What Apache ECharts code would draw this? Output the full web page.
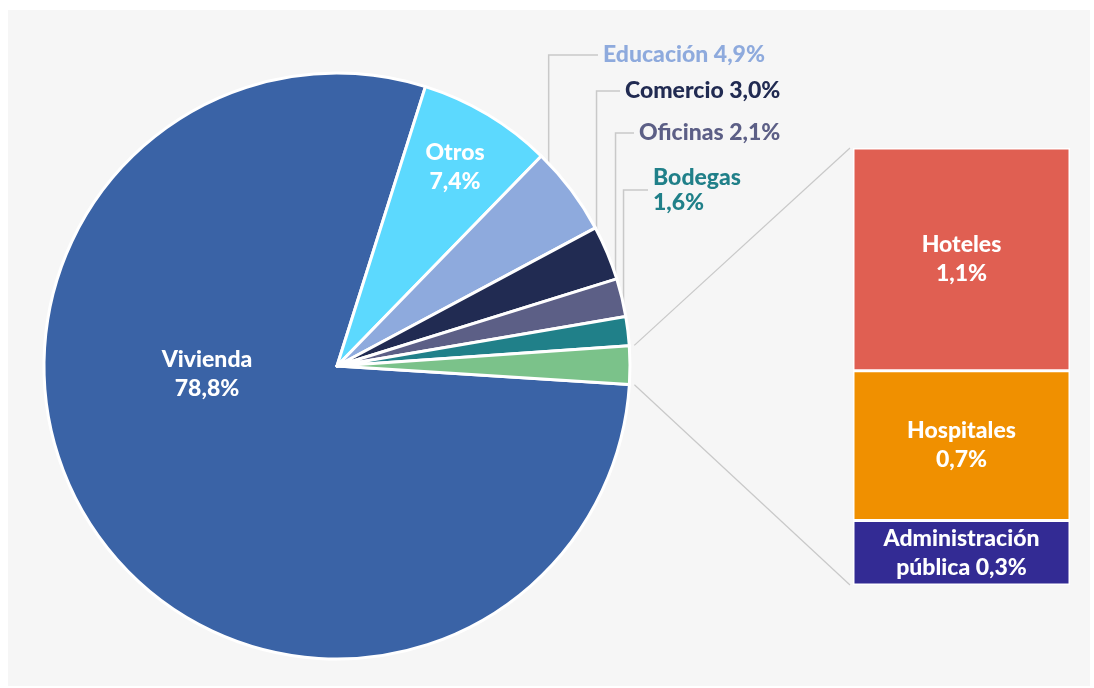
<!DOCTYPE html>
<html>
<head>
<meta charset="utf-8">
<title>Distribución por destino</title>
<script src="https://cdn.jsdelivr.net/npm/echarts@6/dist/echarts.min.js"></script>
<style>
	html, body { margin: 0; padding: 0; background: #ffffff; }
	#mainChart { width: 1094px; height: 688px; }
</style>
</head>
<body>
<div id="mainChart"></div>
<script>
// datos del gráfico
var pieNames = ['Vivienda', 'Otros', 'Educación', 'Comercio', 'Oficinas', 'Bodegas', 'Otros usos'];
var pieValues = [78.8, 7.4, 4.9, 3.0, 2.1, 1.6, 2.1];
var pieColors = ['#3a63a6', '#5cd9fe', '#8eaadd', '#212b52', '#5c5f86', '#208089', '#7bc28a'];

var barNames = ['Hoteles', 'Hospitales', 'Administración pública'];
var barValues = [1.07, 0.72, 0.31];
var barColors = ['#e05f52', '#f09000', '#332b94'];

// geometría
var cx = 337, cy = 366, R = 293;
var startAngle = -3.6;
var gridBox = { left: 853, top: 148, width: 217, height: 437 };
var fontName = 'Lato';

// posición de las etiquetas (x, y del texto)
var labelPos = {
	'Vivienda': [207, 374],
	'Otros': [455, 167],
	'Educación': [603, 55],
	'Comercio': [625, 91],
	'Oficinas': [639, 133],
	'Bodegas': [653, 190]
};

function fmt(v) {
	return v.toFixed(1).replace('.', ',') + '%';
}

// ángulos de cada sector (sentido horario desde startAngle)
var total = 0;
for (var i = 0; i < pieValues.length; i++) total += pieValues[i];
var sliceStart = [], sliceEnd = [];
var acc = startAngle;
for (var i = 0; i < pieValues.length; i++) {
	sliceStart.push(acc);
	acc -= pieValues[i] / total * 360;
	sliceEnd.push(acc);
}

function polar(angleDeg, r) {
	var a = angleDeg * Math.PI / 180;
	return [cx + r * Math.cos(a), cy - r * Math.sin(a)];
}

var pieData = [];
for (var i = 0; i < pieNames.length; i++) {
	var item = {
		name: pieNames[i],
		value: pieValues[i],
		itemStyle: { color: pieColors[i] }
	};
	if (i < 2) {
		item.label = { position: 'inside', color: '#ffffff', lineHeight: 29, formatter: '{b}\n' + fmt(pieValues[i]) };
		item.labelLine = { show: false };
	} else if (i == pieNames.length - 1) {
		item.label = { show: false };
		item.labelLine = { show: false };
	} else {
		var txt = pieNames[i] == 'Bodegas' ? '{b}\n' + fmt(pieValues[i]) : '{b} ' + fmt(pieValues[i]);
		item.label = { color: pieColors[i], formatter: txt };
	}
	pieData.push(item);
}

var barTotal = 0;
for (var i = 0; i < barValues.length; i++) barTotal += barValues[i];

var barSeries = [];
for (var i = 0; i < barNames.length; i++) {
	var txtBar = barNames[i] == 'Administración pública' ? 'Administración\npública ' + fmt(barValues[i]) : barNames[i] + '\n' + fmt(barValues[i]);
	barSeries.push({
		name: barNames[i],
		type: 'bar',
		stack: 'otrosUsos',
		barWidth: '100%',
		data: [barValues[i]],
		itemStyle: { color: barColors[i], borderColor: '#ffffff', borderWidth: 1.5 },
		label: {
			show: true,
			position: 'inside',
			color: '#ffffff',
			fontFamily: fontName,
			fontWeight: 900,
			fontSize: 23,
			lineHeight: 29,
			formatter: txtBar
		},
		silent: true
	});
}

// líneas que unen el sector verde con la barra
var last = pieValues.length - 1;
var pTop = polar(sliceStart[last], R + 5);
var pBot = polar(sliceEnd[last], R + 5);
var connStyle = { stroke: '#c9c9c9', lineWidth: 1.2 };

var chart = echarts.init(document.getElementById('mainChart'));
var option = {
	backgroundColor: '#ffffff',
	animation: false,
	graphic: [
		{ type: 'rect', z: -10, silent: true, shape: { x: 8, y: 10, width: 1082, height: 676 }, style: { fill: '#f6f6f6' } },
		{ type: 'line', z: 1, silent: true, shape: { x1: pTop[0], y1: pTop[1], x2: gridBox.left - 3, y2: gridBox.top }, style: connStyle },
		{ type: 'line', z: 1, silent: true, shape: { x1: pBot[0], y1: pBot[1], x2: gridBox.left - 3, y2: gridBox.top + gridBox.height }, style: connStyle }
	],
	grid: { left: gridBox.left, top: gridBox.top, width: gridBox.width, height: gridBox.height },
	xAxis: { type: 'category', data: ['Otros usos'], show: false },
	yAxis: { type: 'value', min: 0, max: barTotal, inverse: true, show: false },
	series: [{
		type: 'pie',
		center: [cx, cy],
		radius: R,
		startAngle: startAngle,
		clockwise: true,
		avoidLabelOverlap: false,
		silent: true,
		data: pieData,
		itemStyle: { borderColor: '#ffffff', borderWidth: 3 },
		label: {
			show: true,
			position: 'outside',
			fontFamily: fontName,
			fontWeight: 900,
			fontSize: 23,
			lineHeight: 25
		},
		labelLine: {
			show: true,
			length: 10,
			length2: 10,
			lineStyle: { color: '#c9c9c9', width: 1.5 }
		},
		labelLayout: function(params) {
			var name = pieNames[params.dataIndex];
			var pos = labelPos[name];
			if (!pos) return {};
			if (params.dataIndex < 2) {
				return { x: pos[0], y: pos[1], align: 'center', verticalAlign: 'middle' };
			}
			// punto de anclaje cerca del borde superior del sector
			var i = params.dataIndex;
			var a = sliceStart[i] - 0.15 * (sliceStart[i] - sliceEnd[i]);
			var p = polar(a, R - 3);
			return {
				x: pos[0],
				y: pos[1],
				align: 'left',
				verticalAlign: 'middle',
				labelLinePoints: [[p[0], p[1]], [p[0], pos[1]], [pos[0] - 5, pos[1]]]
			};
		}
	}].concat(barSeries)
};
chart.setOption(option);
</script>
</body>
</html>
